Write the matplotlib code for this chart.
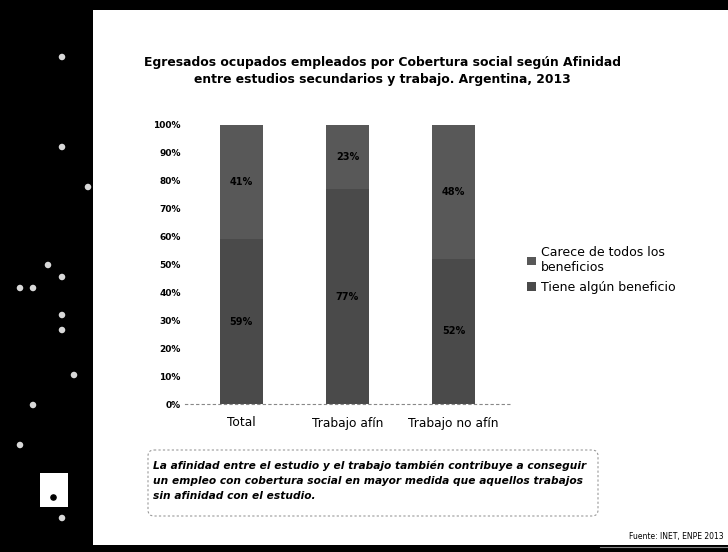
import matplotlib.pyplot as plt
from matplotlib.patches import Rectangle, FancyBboxPatch

categories = ["Total", "Trabajo afín", "Trabajo no afín"]
tiene_beneficio = [59, 77, 52]
carece_beneficios = [41, 23, 48]
series_names = ["Carece de todos los\nbeneficios", "Tiene algún beneficio"]
y_ticks = list(range(0, 101, 10))

title = ("Egresados ocupados empleados por Cobertura social según Afinidad\n"
         "entre estudios secundarios y trabajo. Argentina, 2013")
note = ("La afinidad entre el estudio y el trabajo también contribuye a conseguir\n"
        "un empleo con cobertura social en mayor medida que aquellos trabajos\n"
        "sin afinidad con el estudio.")
source = "Fuente: INET, ENPE 2013"

# white dots on the dark side panel (pixel coords)
dots_x = [62, 62, 88, 48, 62, 20, 33, 62, 62, 74, 33, 20, 62]
dots_y = [57, 147, 187, 265, 277, 288, 288, 315, 330, 375, 405, 445, 518]

fig = plt.figure(figsize=(7.28, 5.52), dpi=100)
fig.patch.set_facecolor("black")

# slide background layer
bg = fig.add_axes([0, 0, 1, 1])
bg.set_xlim(0, 728)
bg.set_ylim(552, 0)
bg.axis("off")
bg.add_patch(Rectangle((93, 10), 640, 535, facecolor="white", edgecolor="none"))
bg.scatter(dots_x, dots_y, s=22, color="#d8d8d8", edgecolors="none")
bg.add_patch(Rectangle((40, 473), 28, 34, facecolor="white", edgecolor="none"))
bg.scatter([53], [497], s=14, color="black")
bg.plot([600, 728], [547, 547], color="#888888", lw=0.8)

bg.text(382, 71, title, ha="center", va="center", fontsize=8.9,
        fontweight="bold", linespacing=1.45)

bg.add_patch(FancyBboxPatch((150, 452), 446, 62, boxstyle="round,pad=2,rounding_size=6",
                            facecolor="white", edgecolor="#999999", lw=0.8, ls=(0, (2, 2))))
bg.text(153, 481, note, ha="left", va="center", fontsize=7.7, fontweight="bold",
        style="italic", linespacing=1.65)
bg.text(724, 536, source, ha="right", va="center", fontsize=5.5)

# chart
ax = fig.add_axes([185 / 728, (552 - 404) / 552, 325 / 728, 279 / 552])
x = range(len(categories))
b1 = ax.bar(x, tiene_beneficio, width=0.4, color="#4a4a4a", label=series_names[1])
b2 = ax.bar(x, carece_beneficios, width=0.4, bottom=tiene_beneficio,
            color="#585858", label=series_names[0])
for bars, vals in ((b1, tiene_beneficio), (b2, carece_beneficios)):
    ax.bar_label(bars, labels=[f"{v}%" for v in vals], label_type="center",
                 fontsize=7, fontweight="bold", color="black")

ax.set_ylim(0, 100)
ax.set_xlim(-0.53, 2.53)
ax.set_yticks(y_ticks)
ax.set_yticklabels([f"{t}%" for t in y_ticks], fontsize=6.5, fontweight="bold")
ax.set_xticks(list(x))
ax.set_xticklabels(categories, fontsize=8.8)
ax.tick_params(axis="y", length=0, pad=3)
ax.tick_params(axis="x", length=0, pad=9)
for s in ("top", "right", "left"):
    ax.spines[s].set_visible(False)
ax.spines["bottom"].set_linestyle((0, (2, 3)))
ax.spines["bottom"].set_color("#888888")

handles, labels = ax.get_legend_handles_labels()
fig.legend(handles[::-1], labels[::-1], loc="center left",
           bbox_to_anchor=(516 / 728, (552 - 270) / 552), frameon=False,
           fontsize=9, handlelength=0.7, handleheight=0.7, handletextpad=0.4,
           labelspacing=0.5)

fig.savefig("out.png", dpi=100, facecolor=fig.get_facecolor())
